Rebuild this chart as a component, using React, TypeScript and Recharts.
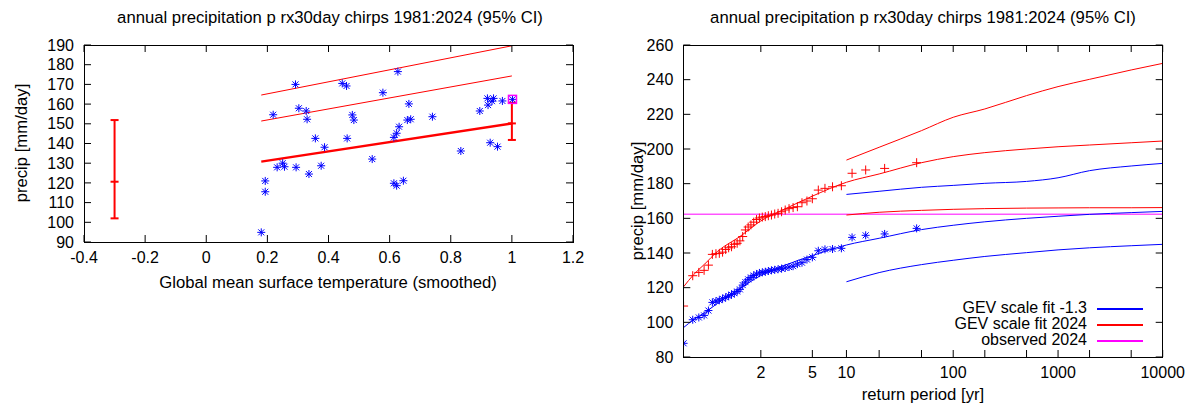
import React from "react";
import {
  ComposedChart,
  Scatter,
  Line,
  XAxis,
  YAxis,
  ErrorBar,
  ReferenceLine,
} from "recharts";

// ---- left panel: rx30day vs smoothed GMST ----
const gmstSmoothed = [
  0.18, 0.193, 0.193, 0.219, 0.232, 0.25, 0.256, 0.292, 0.294, 0.303, 0.327,
  0.33, 0.336, 0.357, 0.376, 0.387, 0.445, 0.459, 0.461, 0.478, 0.483, 0.543,
  0.578, 0.614, 0.623, 0.645, 0.614, 0.623, 0.631, 0.627, 0.663, 0.658, 0.669,
  0.74, 0.833, 0.895, 0.92, 0.922, 0.935, 0.94, 0.969, 0.929, 0.953, 1.002,
];
const rx30Observed = [
  94.9, 121.0, 115.5, 154.6, 127.9, 130.0, 128.2, 170.0, 127.9, 157.9, 156.5,
  152.3, 124.5, 142.6, 128.7, 138.1, 170.5, 169.2, 142.6, 154.5, 151.9, 132.1,
  165.8, 119.8, 118.6, 121.1, 143.1, 145.2, 148.5, 176.5, 160.1, 151.9, 152.3,
  153.6, 136.2, 156.5, 162.9, 159.5, 161.5, 162.9, 161.6, 140.4, 138.4, 162.4,
];
const fitGmst = [0.18, 1.0];
const fitCentral = [130.8, 150.2];
const fitUpperA = [151.4, 174.3];
const fitUpperB = [164.6, 189.6];
const ciGmst = [-0.3, 1.0];
const ciMid = [120.6, 150.2];
const ciLow = [102.0, 141.8];
const ciHigh = [151.9, 160.7];
const obsGmst = [1.002];
const obsValue = [162.4];
const gmstTicks = [-0.4, -0.2, 0, 0.2, 0.4, 0.6, 0.8, 1, 1.2];
const gmstLabels = ["-0.4", "-0.2", "0", "0.2", "0.4", "0.6", "0.8", "1", "1.2"];
const precipTicksL = [90, 100, 110, 120, 130, 140, 150, 160, 170, 180, 190];

// ---- right panel: return periods ----
const plotPeriods = [
  45, 22.5, 15, 11.25, 9, 7.5, 6.429, 5.625, 5, 4.5, 4.091, 3.75, 3.462, 3.214,
  3, 2.813, 2.647, 2.5, 2.368, 2.25, 2.143, 2.045, 1.957, 1.875, 1.8, 1.731,
  1.667, 1.607, 1.552, 1.5, 1.452, 1.406, 1.364, 1.324, 1.286, 1.25, 1.216,
  1.184, 1.154, 1.125, 1.098, 1.071, 1.047, 1.023,
];
const pastValues = [
  154.2, 151.0, 150.2, 149.0, 142.7, 142.3, 142.1, 141.3, 137.5, 136.2, 134.4,
  133.6, 132.4, 131.9, 131.4, 131.0, 130.6, 130.3, 130.0, 129.6, 129.2, 128.8,
  128.5, 127.8, 127.0, 125.9, 124.8, 123.2, 121.5, 119.0, 117.8, 116.8, 116.0,
  115.2, 114.4, 113.6, 112.8, 112.2, 111.5, 106.8, 104.0, 102.8, 101.5, 87.9,
];
const nowValues = [
  192.1, 188.8, 187.9, 186.0, 178.8, 178.2, 177.3, 176.3, 171.3, 170.0, 169.0,
  166.7, 166.2, 165.6, 164.8, 163.8, 162.9, 162.5, 161.9, 161.5, 161.0, 160.7,
  160.2, 159.3, 157.8, 156.2, 155.0, 153.3, 149.5, 147.0, 145.6, 145.0, 143.6,
  143.0, 142.0, 140.5, 139.8, 139.6, 139.2, 133.0, 130.0, 128.8, 126.9, 109.4,
];
const fitPeriods = [
  1.023, 1.05, 1.1, 1.2, 1.5, 2, 3, 5, 10, 20, 50, 100, 200, 500, 1000, 2000,
  5000, 10000,
];
const pastFit = [
  97, 101.5, 105.5, 111, 119.5, 127, 133, 138.5, 144.6, 148.5, 153.5, 156.0,
  158.0, 160.0, 161.2, 162.3, 163.3, 164.0,
];
const nowFit = [
  120.5, 127.5, 133.5, 141, 149.5, 158.5, 165.5, 172.8, 180.8, 185.6, 192.1,
  195.6, 197.9, 200.0, 201.3, 202.3, 203.6, 204.6,
];
const ciPeriods = [10, 20, 50, 100, 200, 500, 1000, 2000, 5000, 10000];
const nowHi = [193.6, 201.0, 210.6, 218.3, 223.1, 230.8, 236.0, 240.2, 245.6, 249.4];
const nowLo = [161.9, 163.5, 164.6, 165.2, 165.6, 165.9, 166.0, 166.1, 166.1, 166.2];
const pastHi = [173.8, 175.6, 177.9, 179.0, 180.2, 181.3, 183.4, 187.5, 190.2, 191.7];
const pastLo = [123.4, 128.7, 133.3, 135.8, 138.0, 140.2, 141.8, 143.0, 144.2, 145.0];
const observed2024 = 162.4;
const periodTicks = [2, 5, 10, 20, 50, 100, 200, 500, 1000, 2000, 5000, 10000];
const periodLabels = ["2", "5", "10", "", "", "100", "", "", "1000", "", "", "10000"];
const precipTicksR = [80, 100, 120, 140, 160, 180, 200, 220, 240, 260];

const TITLE = "annual precipitation p rx30day chirps 1981:2024 (95% CI)";
const FONT = '"Liberation Sans", Arial, Helvetica, sans-serif';
const BLUE = "#0000ff";
const RED = "#ff0000";
const MAGENTA = "#ff00ff";
const FS = 16; // ticks, legend
const FS_LABEL = 16.7; // titles, axis titles
const GAP = 10; // tick label distance from the frame
const TL = 7; // inward tick length

// gumbel reduced variate, the x scale gnuplot uses for return periods
const gumbel = (T: number) => -Math.log(-Math.log(1 - 1 / T));

const pairs = (xs: number[], ys: number[], kx: string, ky: string) =>
  xs.map((x, i) => ({ [kx]: x, [ky]: ys[i] }));

const leftPoints = pairs(gmstSmoothed, rx30Observed, "x", "y");
const ciData = ciGmst.map((x, i) => ({
  x,
  y: ciMid[i],
  err: [ciMid[i] - ciLow[i], ciHigh[i] - ciMid[i]],
}));
const obsData = pairs(obsGmst, obsValue, "x", "y");

const rightPast = plotPeriods.map((T, i) => ({ g: gumbel(T), v: pastValues[i] }));
const rightNow = plotPeriods.map((T, i) => ({ g: gumbel(T), v: nowValues[i] }));
const curve = (Ts: number[], vs: number[]) => Ts.map((T, i) => ({ g: gumbel(T), v: vs[i] }));

const Star = (p: any) => {
  const { cx, cy } = p;
  const r = 4;
  const d = 3;
  return (
    <g stroke={BLUE} strokeWidth={1}>
      <line x1={cx - r} y1={cy} x2={cx + r} y2={cy} />
      <line x1={cx} y1={cy - r} x2={cx} y2={cy + r} />
      <line x1={cx - d} y1={cy - d} x2={cx + d} y2={cy + d} />
      <line x1={cx - d} y1={cy + d} x2={cx + d} y2={cy - d} />
    </g>
  );
};

const Plus = (p: any) => {
  const { cx, cy } = p;
  const r = 4.5;
  return (
    <g stroke={RED} strokeWidth={1}>
      <line x1={cx - r} y1={cy} x2={cx + r} y2={cy} />
      <line x1={cx} y1={cy - r} x2={cx} y2={cy + r} />
    </g>
  );
};

const Dash = (p: any) => (
  <line x1={p.cx - 4} y1={p.cy} x2={p.cx + 4} y2={p.cy} stroke={RED} strokeWidth={2} />
);

const Box = (p: any) => (
  <rect x={p.cx - 4} y={p.cy - 4} width={8} height={8} fill="none" stroke={MAGENTA} strokeWidth={1.5} />
);

// gnuplot style: tick marks point inward, mirrored on the opposite side
const xTick = (labels: string[], plotH: number) => (p: any) => {
  const { x, y, index } = p;
  const ay = y - GAP;
  return (
    <g>
      <line x1={x} y1={ay} x2={x} y2={ay - TL} stroke="#000" strokeWidth={1} />
      <line x1={x} y1={ay - plotH} x2={x} y2={ay - plotH + TL} stroke="#000" strokeWidth={1} />
      <text x={x} y={y} dy="0.71em" textAnchor="middle" fontSize={FS} fontFamily={FONT} fill="#000">
        {labels[index]}
      </text>
    </g>
  );
};

const yTick = (plotW: number) => (p: any) => {
  const { x, y, payload } = p;
  const ax = x + GAP;
  return (
    <g>
      <line x1={ax} y1={y} x2={ax + TL} y2={y} stroke="#000" strokeWidth={1} />
      <line x1={ax + plotW} y1={y} x2={ax + plotW - TL} y2={y} stroke="#000" strokeWidth={1} />
      <text x={x} y={y} dy="0.355em" textAnchor="end" fontSize={FS} fontFamily={FONT} fill="#000">
        {payload.value}
      </text>
    </g>
  );
};

const textAbs = (left: number, top: number, rotate = false): React.CSSProperties => ({
  position: "absolute",
  left,
  top,
  transform: rotate ? "translate(-50%, -50%) rotate(-90deg)" : "translate(-50%, -50%)",
  whiteSpace: "nowrap",
  fontSize: FS_LABEL,
  lineHeight: "20px",
  color: "#000",
});

const frame = (left: number, top: number, w: number, h: number): React.CSSProperties => ({
  position: "absolute",
  left: left - 0.5,
  top: top - 0.5,
  width: w + 1,
  height: h + 1,
  border: "1px solid #000",
  boxSizing: "border-box",
  pointerEvents: "none",
});

const legendRows = [
  { label: "GEV scale fit -1.3", color: BLUE, y: 308 },
  { label: "GEV scale fit 2024", color: RED, y: 324 },
  { label: "observed 2024", color: MAGENTA, y: 340 },
];

export default function App() {
  return (
    <div
      style={{
        position: "absolute",
        left: 0,
        top: 0,
        width: 1195,
        height: 408,
        background: "#fff",
        fontFamily: FONT,
      }}
    >
      {/* left panel: plot area 84..573 x 45..242 */}
      <div style={{ position: "absolute", left: 0, top: 0 }}>
        <ComposedChart width={600} height={300} margin={{ top: 45, right: 27, left: 34, bottom: 0 }}>
          <XAxis
            dataKey="x"
            type="number"
            domain={[-0.4, 1.2]}
            ticks={gmstTicks}
            allowDataOverflow
            height={58}
            tickSize={0}
            tickMargin={GAP}
            tick={xTick(gmstLabels, 197)}
            axisLine={false}
            tickLine={false}
            interval={0}
          />
          <YAxis
            dataKey="y"
            type="number"
            domain={[90, 190]}
            ticks={precipTicksL}
            allowDataOverflow
            width={50}
            tickSize={0}
            tickMargin={GAP}
            tick={yTick(489)}
            axisLine={false}
            tickLine={false}
            interval={0}
          />
          <Line data={pairs(fitGmst, fitUpperB, "x", "y")} dataKey="y" stroke={RED} strokeWidth={1} dot={false} isAnimationActive={false} />
          <Line data={pairs(fitGmst, fitUpperA, "x", "y")} dataKey="y" stroke={RED} strokeWidth={1} dot={false} isAnimationActive={false} />
          <Line data={pairs(fitGmst, fitCentral, "x", "y")} dataKey="y" stroke={RED} strokeWidth={2.5} dot={false} isAnimationActive={false} />
          <Scatter data={leftPoints} shape={Star} isAnimationActive={false} />
          <Scatter data={ciData} shape={Dash} isAnimationActive={false}>
            <ErrorBar dataKey="err" direction="y" width={4} stroke={RED} strokeWidth={2} isAnimationActive={false} />
          </Scatter>
          <Scatter data={obsData} shape={Box} isAnimationActive={false} />
        </ComposedChart>
      </div>
      <div style={frame(84, 45, 489, 197)} />
      <div style={textAbs(330, 18)}>{TITLE}</div>
      <div style={textAbs(22, 143, true)}>precip [mm/day]</div>
      <div style={textAbs(328, 283)}>Global mean surface temperature (smoothed)</div>

      {/* right panel: plot area 683.3..1162.7 x 45..357 */}
      <div style={{ position: "absolute", left: 600, top: 0 }}>
        <ComposedChart width={595} height={408} margin={{ top: 45, right: 32.3, left: 33.3, bottom: 0 }}>
          <XAxis
            dataKey="g"
            type="number"
            domain={[-1.34, gumbel(10000)]}
            ticks={periodTicks.map(gumbel)}
            allowDataOverflow
            height={51}
            tickSize={0}
            tickMargin={GAP}
            tick={xTick(periodLabels, 312)}
            axisLine={false}
            tickLine={false}
            interval={0}
          />
          <YAxis
            dataKey="v"
            type="number"
            domain={[80, 260]}
            ticks={precipTicksR}
            allowDataOverflow
            width={50}
            tickSize={0}
            tickMargin={GAP}
            tick={yTick(479.4)}
            axisLine={false}
            tickLine={false}
            interval={0}
          />
          <ReferenceLine y={observed2024} stroke={MAGENTA} strokeWidth={1} />
          <Line data={curve(ciPeriods, nowHi)} dataKey="v" type="monotone" stroke={RED} strokeWidth={1} dot={false} isAnimationActive={false} />
          <Line data={curve(ciPeriods, nowLo)} dataKey="v" type="monotone" stroke={RED} strokeWidth={1} dot={false} isAnimationActive={false} />
          <Line data={curve(fitPeriods, nowFit)} dataKey="v" type="monotone" stroke={RED} strokeWidth={1} dot={false} isAnimationActive={false} />
          <Line data={curve(ciPeriods, pastHi)} dataKey="v" type="monotone" stroke={BLUE} strokeWidth={1} dot={false} isAnimationActive={false} />
          <Line data={curve(ciPeriods, pastLo)} dataKey="v" type="monotone" stroke={BLUE} strokeWidth={1} dot={false} isAnimationActive={false} />
          <Line data={curve(fitPeriods, pastFit)} dataKey="v" type="monotone" stroke={BLUE} strokeWidth={1} dot={false} isAnimationActive={false} />
          <Scatter data={rightNow} shape={Plus} isAnimationActive={false} />
          <Scatter data={rightPast} shape={Star} isAnimationActive={false} />
        </ComposedChart>
      </div>
      <div style={frame(683.3, 45, 479.4, 312)} />
      <div style={textAbs(923, 18)}>{TITLE}</div>
      <div style={textAbs(638, 201, true)}>precip [mm/day]</div>
      <div style={textAbs(923, 395)}>return period [yr]</div>

      {/* legend */}
      {legendRows.map((e) => (
        <React.Fragment key={e.label}>
          <div
            style={{
              position: "absolute",
              right: 1195 - 1087,
              top: e.y - 10,
              fontSize: FS,
              lineHeight: "20px",
              whiteSpace: "nowrap",
            }}
          >
            {e.label}
          </div>
          <div
            style={{
              position: "absolute",
              left: 1097,
              top: e.y,
              width: 46,
              height: 1.5,
              background: e.color,
            }}
          />
        </React.Fragment>
      ))}
    </div>
  );
}
